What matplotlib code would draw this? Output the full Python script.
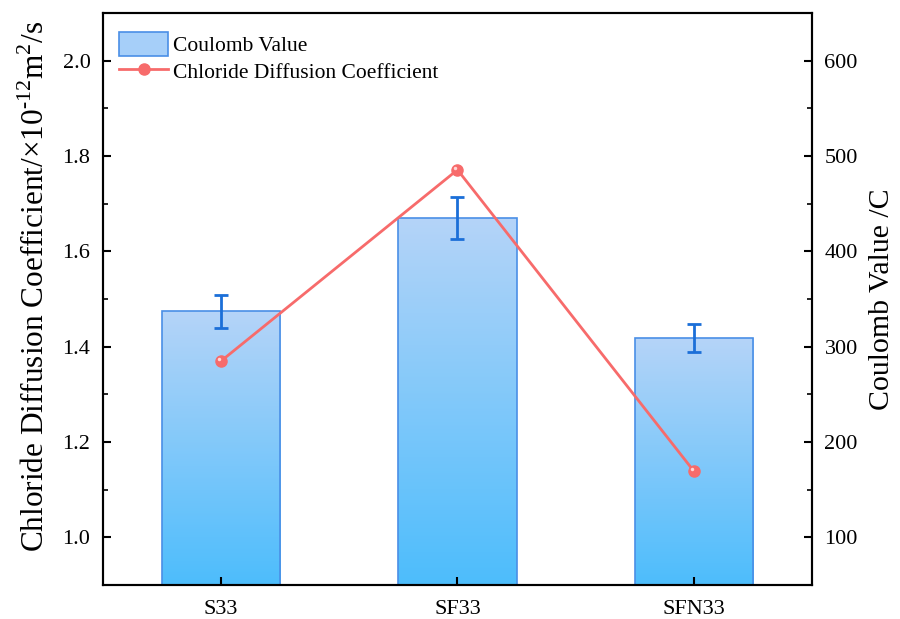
import matplotlib.pyplot as plt
import matplotlib.transforms as mtransforms
from matplotlib.colors import LinearSegmentedColormap
from matplotlib.patches import Patch, Rectangle
from matplotlib.lines import Line2D
from matplotlib.legend_handler import HandlerPatch
from matplotlib.ticker import MultipleLocator
import numpy as np

plt.rcParams['font.family'] = ['Liberation Serif', 'DejaVu Serif']
plt.rcParams['mathtext.fontset'] = 'custom'
plt.rcParams['mathtext.rm'] = 'Liberation Serif'

# samples and measured values
samples = ["S33", "SF33", "SFN33"]
coulomb = [337, 435, 309]          # C
coulomb_err = [17, 22, 15]
chloride_coef = [1.370, 1.771, 1.139]  # x10^-12 m^2/s

bar_cmap = LinearSegmentedColormap.from_list("bar_grad", ["#4dbdfc", "#b5d4f8"])
line_color = "#f76b6b"
err_color = "#1b6fd8"
edge_color = "#4a8fe6"


def tall_box(legend, orig_handle, xdescent, ydescent, width, height, fontsize):
    # legend swatch a bit taller than the default handle box
    return Rectangle((-xdescent, -ydescent - 1), width, height + 2)


fig = plt.figure(figsize=(9, 6.19), dpi=100)
ax1 = fig.add_axes([0.1144, 0.0549, 0.7878, 0.9241])
ax2 = ax1.twinx()

x = np.arange(len(samples))
width = 0.5
y2_min, y2_max = 50, 650

# bars on the right axis, filled with a vertical gradient
bars = ax2.bar(x, coulomb, width, facecolor="none", edgecolor=edge_color,
               linewidth=1.2, zorder=2)
grad = np.linspace(0, 1, 256).reshape(-1, 1)
for rect in bars:
    x0 = rect.get_x()
    h = rect.get_height()
    im = ax2.imshow(grad, cmap=bar_cmap, origin="lower", aspect="auto",
                    extent=(x0, x0 + width, y2_min, h), zorder=1)
    im.set_clip_path(rect)
ax2.errorbar(x, coulomb, yerr=coulomb_err, fmt="none", ecolor=err_color,
             elinewidth=2, capsize=5, capthick=2, zorder=3)

# chloride diffusion coefficient line on the left axis, drawn above the bars
ax1.set_zorder(ax2.get_zorder() + 1)
ax1.patch.set_visible(False)
ax1.plot(x, chloride_coef, color=line_color, linewidth=2, marker="o",
         markersize=8, markerfacecolor=line_color, markeredgecolor=line_color,
         zorder=4)
shift = mtransforms.ScaledTranslation(-1.5 / 72, 1.5 / 72, fig.dpi_scale_trans)
ax1.plot(x, chloride_coef, linestyle="none", marker="o", markersize=2.5,
         markerfacecolor="#ffd6d6", markeredgecolor="none",
         transform=ax1.transData + shift, zorder=5)

ax1.set_xlim(-0.5, 2.5)
ax1.set_ylim(0.9, 2.1)
ax2.set_ylim(y2_min, y2_max)

ax1.set_xticks(x)
ax1.set_xticklabels(samples)
ax1.yaxis.set_major_locator(MultipleLocator(0.2))
ax1.yaxis.set_minor_locator(MultipleLocator(0.1))
ax2.yaxis.set_major_locator(MultipleLocator(100))
ax2.yaxis.set_minor_locator(MultipleLocator(50))
ax1.yaxis.set_major_formatter(plt.FormatStrFormatter("%.1f"))

for ax in (ax1, ax2):
    ax.tick_params(which="major", direction="in", length=6, width=1.5,
                   labelsize=16, pad=9)
    ax.tick_params(which="minor", direction="in", length=3.5, width=1.2)
    for sp in ax.spines.values():
        sp.set_linewidth(1.5)
ax1.tick_params(axis="x", which="minor", bottom=False)
ax1.tick_params(axis="x", pad=11)

ax1.set_ylabel("Chloride Diffusion Coefficient/×10$^{\\text{-12}}$m$^{2}$/s",
               fontsize=22.5)
ax1.yaxis.set_label_coords(-0.073, 0.522)
ax2.set_ylabel("Coulomb Value /C", fontsize=21.5, labelpad=8)

handles = [
    Patch(facecolor="#a6cff9", edgecolor=edge_color, linewidth=1.2,
          label="Coulomb Value"),
    Line2D([0], [0], color=line_color, linewidth=2, marker="o", markersize=8,
           label="Chloride Diffusion Coefficient"),
]
ax1.legend(handles=handles, loc="upper left", frameon=False, fontsize=15.5,
           handlelength=2.25, handleheight=1.1, handletextpad=0.25,
           labelspacing=0.2, borderaxespad=0.5, bbox_to_anchor=(-0.004, 0.998),
           handler_map={Patch: HandlerPatch(patch_func=tall_box)})

fig.savefig("out.png", dpi=100)
